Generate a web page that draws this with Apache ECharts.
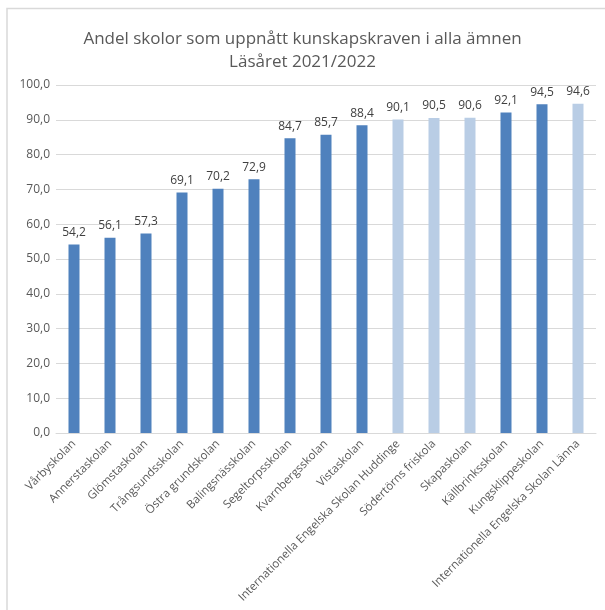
<!DOCTYPE html>
<html>
<head>
<meta charset="utf-8">
<script src="https://cdn.jsdelivr.net/npm/echarts@6/dist/echarts.min.js"></script>
<style>html,body{margin:0;padding:0;background:#fff}#c{width:605px;height:610px}</style>
</head>
<body>
<div id="c"></div>
<script>
const categories = ['Vårbyskolan','Annerstaskolan','Glömstaskolan','Trångsundsskolan','Östra grundskolan','Balingsnässkolan','Segeltorpsskolan','Kvarnbergsskolan','Vistaskolan','Internationella Engelska Skolan Huddinge','Södertörns friskola','Skapaskolan','Källbrinksskolan','Kungsklippeskolan','Internationella Engelska Skolan Länna'];
const values = [54.2,56.1,57.3,69.1,70.2,72.9,84.7,85.7,88.4,90.1,90.5,90.6,92.1,94.5,94.6];
const schoolType = ['kommunal','kommunal','kommunal','kommunal','kommunal','kommunal','kommunal','kommunal','kommunal','fristående','fristående','fristående','kommunal','kommunal','fristående'];
const yTicks = [0,10,20,30,40,50,60,70,80,90,100];

const colorByType = {kommunal:'#4F81BD', 'fristående':'#B9CDE5'};
const fmt = v => Number(v).toFixed(1).replace('.', ',');

const chart = echarts.init(document.getElementById('c'), null, {renderer:'canvas'});
chart.setOption({
  animation:false,
  backgroundColor:'#fff',
  textStyle:{fontFamily:'Open Sans'},
  title:{
    text:'Andel skolor som uppnått kunskapskraven i alla ämnen\nLäsåret 2021/2022',
    left:'center', top:23,
    textStyle:{fontFamily:'Open Sans', fontSize:17, fontWeight:'normal', color:'#595959', lineHeight:23}
  },
  graphic:[{
    type:'polyline', silent:true,
    shape:{points:[[7,610],[7,8.5],[605,8.5]]},
    style:{stroke:'#D9D9D9', lineWidth:1.5, fill:null}
  }],
  grid:{left:56, right:9, top:85, bottom:177, containLabel:false},
  xAxis:{
    type:'category', data:categories,
    axisLine:{lineStyle:{color:'#D9D9D9'}},
    axisTick:{show:false},
    axisLabel:{interval:0, rotate:45, margin:9, fontSize:11.5, color:'#595959', fontFamily:'Open Sans'}
  },
  yAxis:{
    type:'value', min:yTicks[0], max:yTicks[yTicks.length-1], interval:yTicks[1]-yTicks[0],
    axisLine:{show:false}, axisTick:{show:false},
    splitLine:{lineStyle:{color:'#D9D9D9'}},
    axisLabel:{formatter:v=>fmt(v), fontSize:12, color:'#595959', margin:6, fontFamily:'Open Sans'}
  },
  series:[{
    type:'bar', barWidth:11,
    data:values.map((v,i)=>({value:v, itemStyle:{color:colorByType[schoolType[i]]}})),
    label:{show:true, position:'top', distance:6, formatter:p=>fmt(p.value), fontSize:12, color:'#404040', fontFamily:'Open Sans'}
  }]
});
</script>
</body>
</html>
